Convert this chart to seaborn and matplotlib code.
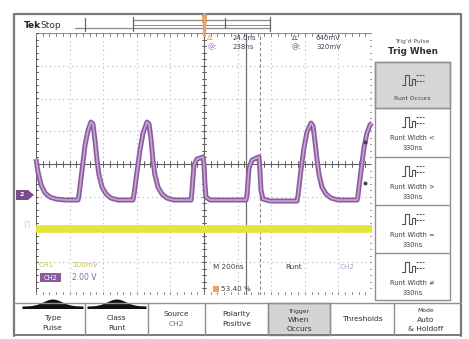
import numpy as np
import matplotlib
matplotlib.use("Agg")
import matplotlib.pyplot as plt
from matplotlib.patches import Rectangle, Polygon
import pandas as pd
import seaborn as sns

# ---- acquired waveforms -------------------------------------------------
# CH2: pulse train with two runt pulses (time in ns, level in volts)
ch2_time_ns = [0, 12, 30, 54, 83, 119, 173, 250,
               256, 274, 292, 310, 327, 339, 351, 363, 375, 393, 417, 446, 488, 577,
               583, 601, 619, 637, 661, 673, 685, 696, 708, 726, 750, 780, 821, 923,
               929, 940, 958, 976, 994, 1000, 1006, 1012, 1036, 1250,
               1256, 1268, 1286, 1310, 1327, 1333, 1339, 1351, 1393, 1554,
               1560, 1577, 1595, 1613, 1637, 1649, 1661, 1673, 1685, 1702, 1726, 1756, 1798, 1911,
               1917, 1935, 1952, 1970, 1988, 2000]
ch2_volts = [2.50, 1.71, 0.92, 0.43, 0.18, 0.06, 0.0, 0.0,
             0.31, 1.83, 3.36, 4.27, 4.76, 4.64, 3.66, 2.44, 1.53, 0.79, 0.37, 0.12, 0.0, 0.0,
             0.31, 1.71, 3.05, 4.09, 4.76, 4.64, 3.66, 2.44, 1.53, 0.79, 0.37, 0.12, 0.0, 0.0,
             0.61, 2.14, 2.50, 2.56, 2.63, 2.14, 0.92, 0.18, 0.0, 0.0,
             0.31, 1.95, 2.44, 2.56, 2.63, 1.83, 0.61, 0.06, -0.06, -0.06,
             0.31, 1.83, 3.18, 4.15, 4.70, 4.52, 3.54, 2.44, 1.53, 0.79, 0.37, 0.12, 0.0, 0.0,
             0.31, 1.83, 3.18, 4.09, 4.58, 4.70]
# CH1: flat trace
ch1_time_ns = [0, 2000]
ch1_mv = [0.0, 0.0]

# ---- scope settings ------------------------------------------------------
time_per_div_ns = 200
ch2_volts_per_div = 2.0
ch1_mv_per_div = 100
ch2_ground_div = -1.10
ch1_ground_div = -1.98

time_readouts = [("Δ:", "24.0ns"), ("@:", "238ns")]
volt_readouts = [("Δ:", "640mV"), ("@:", "320mV")]
side_menu = ["Runt Width <", "Runt Width >", "Runt Width =", "Runt Width ≠"]
side_value = "330ns"
bottom_menu = [("Type", "Pulse"), ("Class", "Runt"), ("Source", "CH2"),
               ("Polarity", "Positive"), ("Trigger", "When", "Occurs"),
               ("Thresholds",), ("Mode", "Auto", "& Holdoff")]

sns.set_style("white")
plt.rcParams['font.family'] = ['DejaVu Sans']

W, H = 469, 339
fig = plt.figure(figsize=(W / 100, H / 100), dpi=100)
fig.patch.set_facecolor("white")

# graticule axes (pixel box 36..372 x 33..295)
gx0, gx1, gy0, gy1 = 36, 372, 33, 295
ax = fig.add_axes([gx0 / W, (H - gy1) / H, (gx1 - gx0) / W, (gy1 - gy0) / H])
ax.set_facecolor("none")

grid_c = "#b4b4b4"
for i in range(1, 10):
    if i == 5:
        continue
    ax.axvline(i * time_per_div_ns, color=grid_c, lw=0.8, ls=(0, (1, 3)), zorder=1)
for j in range(-3, 4):
    if j == 0:
        continue
    ax.axhline(j, color=grid_c, lw=0.8, ls=(0, (1, 3)), zorder=1)

# center cross and frame edges with minor ticks
ax.axvline(5 * time_per_div_ns, color="#606060", lw=0.8, zorder=1)
ax.axhline(0, color="#606060", lw=0.8, zorder=1)
ax.axvline(0, color="#505050", lw=1.3, zorder=1)
ax.axvline(10 * time_per_div_ns, color="#909090", lw=0.8, ls=(0, (2, 2)), zorder=1)
ax.axhline(4, color="#909090", lw=0.8, zorder=1)
ax.axhline(-4, color="#909090", lw=0.8, ls=(0, (2, 2)), zorder=1)
tx = np.arange(0, 2001, time_per_div_ns / 5)
ty = np.arange(-4, 4.01, 0.2)
tick_h, tick_w = 0.09, 12
for x in tx:
    ax.plot([x, x], [-tick_h, tick_h], color="#606060", lw=0.7, zorder=1)
    ax.plot([x, x], [4 - tick_h, 4], color="#808080", lw=0.7, zorder=1)
    ax.plot([x, x], [-4, -4 + tick_h], color="#909090", lw=0.7, zorder=1)
for y in ty:
    ax.plot([1000 - tick_w, 1000 + tick_w], [y, y], color="#606060", lw=0.7, zorder=1)
    ax.plot([0, tick_w], [y, y], color="#505050", lw=0.7, zorder=1)
    ax.plot([2000 - tick_w, 2000], [y, y], color="#909090", lw=0.7, zorder=1)

# cursors
ax.axvline(1250, color="#707070", lw=0.9, zorder=1.5)
ax.axvline(1333, color="#8a8a8a", lw=0.8, ls=(0, (3, 2)), zorder=1.5)

# traces
df1 = pd.DataFrame({"t": ch1_time_ns,
                    "div": np.array(ch1_mv) / ch1_mv_per_div + ch1_ground_div})
df2 = pd.DataFrame({"t": ch2_time_ns,
                    "div": np.array(ch2_volts) / ch2_volts_per_div + ch2_ground_div})
sns.lineplot(data=df1, x="t", y="div", ax=ax, sort=False, estimator=None,
             color="#e6e43a", lw=5.5, zorder=3)
sns.lineplot(data=df2, x="t", y="div", ax=ax, sort=False, estimator=None,
             color="#8b5d9f", lw=3.6, zorder=4)
sns.lineplot(data=df2, x="t", y="div", ax=ax, sort=False, estimator=None,
             color="#c6a6d2", lw=1.2, zorder=5)
for ln in ax.lines[-3:]:
    ln.set_solid_capstyle("butt")
    ln.set_clip_on(False)
ax.set_xlim(0, 10 * time_per_div_ns)
ax.set_ylim(-4, 4)
ax.set_axis_off()

# ---- instrument chrome (pixel coordinates) ------------------------------
ov = fig.add_axes([0, 0, 1, 1], zorder=5)
ov.set_xlim(0, W)
ov.set_ylim(H, 0)
ov.set_axis_off()
ov.set_facecolor("none")

frame_c = "#7a7a7a"
ov.plot([14, 461, 461], [14, 14, 336], color=frame_c, lw=1.6)
ov.plot([14, 14], [14, 336], color=frame_c, lw=1.6)

ov.text(24, 25, "Tek", fontsize=6.5, fontweight="bold", color="#202020", va="center")
ov.text(40, 25, "Stop", fontsize=6.5, color="#303030", va="center")

# record bar
bar_c = "#8a8a8a"
ov.plot([75, 270], [28, 28], color=bar_c, lw=0.9)
ov.plot([133, 270], [20, 20], color=bar_c, lw=0.9)
ov.plot([133, 270], [25, 25], color=bar_c, lw=0.7)
for xb, ya, yb in [(85, 18, 31), (133, 17, 31), (225, 18, 28), (270, 17, 31)]:
    ov.plot([xb, xb], [ya, yb], color="#666666", lw=0.9)
ov.add_patch(Rectangle((201.5, 14), 5, 9, color="#f0a860", lw=0))
ov.plot([204, 204], [14, 35], color="#f0a060", lw=2.2)

# cursor readouts
ov.text(207, 38, time_readouts[0][0], fontsize=5, color="#e09040", va="center")
ov.text(207, 47, time_readouts[1][0], fontsize=5, color="#8060a0", va="center")
ov.text(233, 38, time_readouts[0][1], fontsize=5, color="#404060", va="center")
ov.text(233, 47, time_readouts[1][1], fontsize=5, color="#404060", va="center")
ov.text(292, 38, volt_readouts[0][0], fontsize=5, color="#404060", va="center")
ov.text(292, 47, volt_readouts[1][0], fontsize=5, color="#404060", va="center")
ov.text(316, 38, volt_readouts[0][1], fontsize=5, color="#404060", va="center")
ov.text(316, 47, volt_readouts[1][1], fontsize=5, color="#404060", va="center")

# channel markers
ov.add_patch(Polygon([[16, 190], [28, 190], [34, 195], [28, 200], [16, 200]],
                     closed=True, color="#7a4a8e", lw=0))
ov.text(22, 195, "2", fontsize=4.5, color="white", ha="center", va="center",
        fontweight="bold")
ov.text(26, 225, "Π", fontsize=6, color="#d6d2a0", ha="center", va="center")

# threshold dots at the right edge
ov.plot([365, 365], [142, 183], ls="none", marker="o", ms=1.8, color="#404040")

# bottom readouts
ov.text(39, 265, "CH1", fontsize=5.2, color="#c8c050", va="center")
ov.text(72, 265, "100mV", fontsize=5.2, color="#c8c050", va="center")
ov.add_patch(Rectangle((40, 273), 21, 9, color="#8a5a9c", lw=0))
ov.text(50.5, 277.5, "CH2", fontsize=4.8, color="white", ha="center", va="center")
ov.text(72, 278, "2.00 V", fontsize=5.5, color="#8068a0", va="center")
ov.text(213, 267, "M 200ns", fontsize=5.2, color="#404040", va="center")
ov.text(285, 267, "Runt", fontsize=5.2, color="#404040", va="center")
ov.text(340, 267, "CH2", fontsize=5.2, color="#b0a0c8", va="center")
ov.add_patch(Rectangle((213, 286), 6, 6, color="#f0a060", lw=0))
ov.text(221, 289, "53.40 %", fontsize=5.2, color="#404040", va="center")

# right-hand side menu
px0, px1 = 375, 450
pc = (px0 + px1) / 2
box_c = "#909090"
ov.text(pc, 42, "Trig'd Pulse", fontsize=4.3, color="#505050", ha="center", va="center")
ov.text(pc, 52, "Trig When", fontsize=6.3, fontweight="bold", color="#303030",
        ha="center", va="center")
edges = [62, 108, 157, 205, 253, 300]
ov.add_patch(Rectangle((px0, 62), px1 - px0, 46, facecolor="#d6d6d6",
                       edgecolor=box_c, lw=1.0))
for e in edges:
    ov.plot([px0, px1], [e, e], color=box_c, lw=1.0)
ov.plot([px0, px0], [62, 300], color=box_c, lw=1.0)
ov.plot([px1, px1], [62, 300], color=box_c, lw=1.0)


def runt_icon(cx, cy, c="#505050"):
    xs = np.array([-11, -8, -8, -4, -4, -1, -1, 2, 2])
    ys = np.array([5, 5, -5, -5, 5, 5, -1, -1, 5])
    ov.plot(cx + xs, cy + ys, color=c, lw=0.8)
    ov.plot([cx + 3, cx + 11], [cy - 5, cy - 5], color=c, lw=0.8, ls=(0, (2, 1)))
    ov.plot([cx + 3, cx + 11], [cy + 1, cy + 1], color=c, lw=0.8, ls=(0, (2, 1)))


runt_icon(pc, 80)
ov.text(pc, 99, "Runt Occurs", fontsize=4.3, color="#404040", ha="center", va="center")
for k, lab in enumerate(side_menu):
    top = edges[k + 1]
    runt_icon(pc, top + 14)
    ov.text(pc, top + 30, lab, fontsize=4.8, color="#404040", ha="center", va="center")
    ov.text(pc, top + 40, side_value, fontsize=4.8, color="#404040", ha="center",
            va="center")

# bottom menu buttons
seps = [20, 85, 148, 205, 268, 330, 394, 457]
ov.plot([14, 461], [303, 303], color=box_c, lw=1.0)
ov.plot([14, 461], [335, 335], color=frame_c, lw=1.4)
ov.add_patch(Rectangle((268, 303), 62, 32, facecolor="#d4d4d4", edgecolor=box_c, lw=1.0))
for s in seps[1:-1]:
    ov.plot([s, s], [303, 335], color=box_c, lw=1.0)
# pop-up tab humps on the first two buttons
for b in range(2):
    x0, x1 = seps[b] + 2, seps[b + 1] - 2
    xx = np.linspace(x0, x1, 80)
    mid = (x0 + x1) / 2
    bump = 7 * np.exp(-((xx - mid) / 13) ** 2)
    ov.fill_between(xx, 306 - bump, 308.5, color="#101010", lw=0)
for k, lines in enumerate(bottom_menu):
    cx = (seps[k] + seps[k + 1]) / 2
    n = len(lines)
    if n == 1:
        ys = [319]
    elif n == 2:
        ys = [314, 324] if k >= 2 else [318, 328]
    else:
        ys = [311, 320, 329]
    for i, (txt, yy) in enumerate(zip(lines, ys)):
        small = (n == 3 and i == 0)
        col = "#8a60a8" if (txt == "CH2") else "#303030"
        ov.text(cx, yy, txt, fontsize=4.3 if small else 5.4, color=col,
                ha="center", va="center")

fig.savefig("out.png", dpi=100, facecolor="white")
